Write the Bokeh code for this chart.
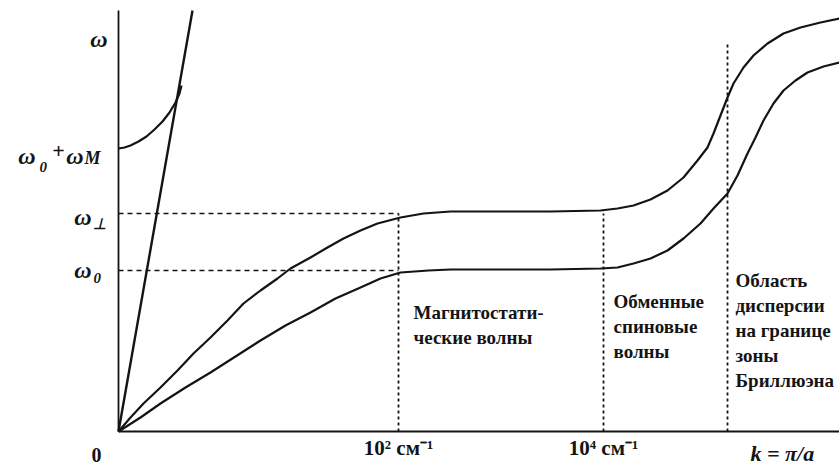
from bokeh.plotting import figure
from bokeh.models import Range1d
from bokeh.core.properties import value
from bokeh.embed import file_html
from bokeh.resources import INLINE

# ---- data (schematic units: x = position along k axis, y = frequency) ----
# upper branch (approaches omega_perp plateau, then zone-boundary dispersion)
k_upper = [0.0, 0.12, 0.25, 0.42, 0.59, 0.75, 0.92, 1.09, 1.25, 1.42, 1.59, 1.72, 1.92,
           2.09, 2.25, 2.42, 2.59, 2.82, 3.05, 3.32, 3.82, 4.32, 4.82, 4.99, 5.15,
           5.32, 5.49, 5.65, 5.79, 5.89, 5.95, 6.02, 6.09, 6.15, 6.25, 6.35, 6.49,
           6.65, 6.82, 7.02, 7.21]
w_upper = [0.0, 0.14, 0.28, 0.44, 0.61, 0.78, 0.94, 1.11, 1.28, 1.41, 1.53, 1.63, 1.74,
           1.84, 1.93, 2.01, 2.08, 2.14, 2.18, 2.20, 2.20, 2.20, 2.21, 2.23, 2.26,
           2.32, 2.41, 2.54, 2.71, 2.84, 2.98, 3.16, 3.34, 3.48, 3.64, 3.76, 3.88,
           3.98, 4.04, 4.09, 4.13]
# lower branch (approaches omega_0 plateau)
k_lower = [0.0, 0.22, 0.42, 0.67, 0.92, 1.17, 1.42, 1.67, 1.92, 2.17, 2.42, 2.62, 2.82,
           3.10, 3.32, 3.82, 4.32, 4.82, 4.99, 5.15, 5.32, 5.49, 5.65, 5.82, 5.95,
           6.09, 6.19, 6.29, 6.37, 6.45, 6.55, 6.65, 6.77, 6.89, 7.05, 7.21]
w_lower = [0.0, 0.14, 0.28, 0.44, 0.59, 0.75, 0.91, 1.06, 1.19, 1.33, 1.44, 1.53, 1.59,
           1.61, 1.62, 1.62, 1.62, 1.63, 1.64, 1.68, 1.73, 1.81, 1.93, 2.08, 2.23,
           2.38, 2.56, 2.78, 2.94, 3.11, 3.28, 3.41, 3.51, 3.59, 3.65, 3.69]
# electromagnetic (light) line
k_light = [0.0, 0.74]
w_light = [0.0, 4.21]
# omega_0 + omega_M branch
k_em = [0.0, 0.06, 0.12, 0.20, 0.28, 0.36, 0.44, 0.51, 0.57, 0.61, 0.63]
w_em = [2.83, 2.84, 2.86, 2.90, 2.95, 3.02, 3.10, 3.19, 3.29, 3.38, 3.46]

# characteristic frequencies
w_0 = 1.61
w_perp = 2.18
w_0M = 2.83
# region boundaries on the k axis (10^2 cm^-1, 10^4 cm^-1, zone edge region)
k_bounds = [2.80, 4.85, 6.09]
k_bound_tops = [w_perp, w_perp, 3.89]
k_end = 7.21
w_top = 4.21

tick_labels = ["0", "10² см⁻¹", "10⁴ см⁻¹", "k = π/a"]
region_texts = ["Магнитостати-\nческие волны",
                "Обменные\nспиновые\nволны",
                "Область\nдисперсии\nна границе\nзоны\nБриллюэна"]

INK = "#141414"
SERIF = value("Liberation Serif")

p = figure(width=839, height=471, output_backend="svg", toolbar_location=None,
           x_range=Range1d(-1.18, 7.21), y_range=Range1d(-0.40, 4.31),
           min_border_left=0, min_border_right=0, min_border_top=0, min_border_bottom=0)
p.axis.visible = False
p.grid.visible = False
p.outline_line_color = None
p.background_fill_color = "white"
p.border_fill_color = "white"

# axes
p.line([0, 0], [0, w_top], line_color=INK, line_width=1.8)
p.line([0, k_end], [0, 0], line_color=INK, line_width=2.2)

# dashed guide lines
p.line([0, k_bounds[0]], [w_perp, w_perp], line_color=INK, line_width=1.6, line_dash="5 4")
p.line([0, k_bounds[0]], [w_0, w_0], line_color=INK, line_width=1.6, line_dash="5 4")
for kb, top in zip(k_bounds, k_bound_tops):
    p.line([kb, kb], [0, top], line_color=INK, line_width=1.8, line_dash="3 3")

# curves
p.line(k_upper, w_upper, line_color=INK, line_width=2.2, line_join="round")
p.line(k_lower, w_lower, line_color=INK, line_width=2.2, line_join="round")
p.line(k_light, w_light, line_color=INK, line_width=2.4)
p.line(k_em, w_em, line_color=INK, line_width=2.2, line_join="round")

# x tick labels
p.text([-0.22], [-0.23], text=[tick_labels[0]], text_align="center", text_baseline="alphabetic",
       text_font=SERIF, text_font_size="20px", text_font_style="bold", text_color=INK)
p.text([k_bounds[0], k_bounds[1]], [-0.16, -0.16], text=tick_labels[1:3], text_align="center",
       text_baseline="alphabetic", text_font=SERIF, text_font_size="21px",
       text_font_style="bold", text_color=INK)
p.text([6.32], [-0.22], text=[tick_labels[3]], text_align="left", text_baseline="alphabetic",
       text_font=SERIF, text_font_size="22px", text_font_style="bold italic", text_color=INK)

# y labels
big = dict(text_font=SERIF, text_font_size="24px", text_font_style="bold italic",
           text_color=INK, text_baseline="alphabetic")
small = dict(text_font=SERIF, text_font_size="15px", text_font_style="bold italic",
             text_color=INK, text_baseline="alphabetic")
p.text([-0.11], [3.93], text=["ω"], text_align="right", **big)
p.text([-0.27], [w_perp - 0.03], text=["ω"], text_align="right", **big)
p.text([-0.26], [w_perp - 0.10], text=["⊥"], text_align="left", **small)
p.text([-0.27], [w_0 + 0.01], text=["ω"], text_align="right", **big)
p.text([-0.25], [w_0 - 0.07], text=["0"], text_align="left", **small)
p.text([-0.83], [w_0M - 0.07], text=["ω"], text_align="right", **big)
p.text([-0.79], [w_0M - 0.18], text=["0"], text_align="left", **small)
p.text([-0.60], [w_0M - 0.02], text=["+"], text_align="center",
       text_font=SERIF, text_font_size="22px", text_font_style="bold", text_color=INK,
       text_baseline="alphabetic")
p.text([-0.35], [w_0M - 0.07], text=["ω"], text_align="right", **big)
p.text([-0.34], [w_0M - 0.09], text=["M"], text_align="left",
       text_font=SERIF, text_font_size="18px", text_font_style="bold italic",
       text_color=INK, text_baseline="alphabetic")

# region descriptions
p.text([2.95, 4.95, 6.17], [1.30, 1.41, 1.62], text=region_texts, text_align="left",
       text_baseline="top", text_font=SERIF, text_font_size="19px", text_font_style="bold",
       text_line_height=1.2, text_color=INK)

open("out.html", "w").write(file_html(p, INLINE))
